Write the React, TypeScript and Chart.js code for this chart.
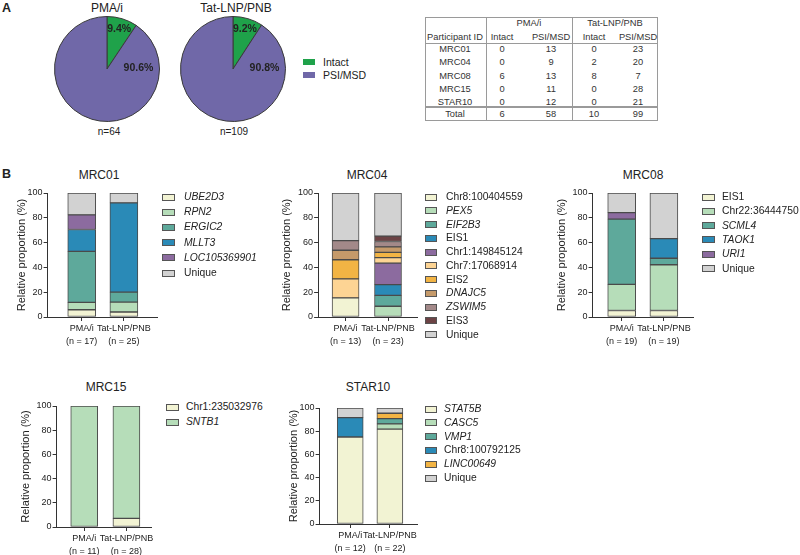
import React, { useEffect, useRef } from 'react';
import { Chart, registerables } from 'chart.js';

Chart.register(...registerables);

const FONT = "'Liberation Sans', Arial, Helvetica, sans-serif";
Chart.defaults.font.family = FONT;

// ---------- Panel A: pies ----------
const pieTitles = ['PMA/i', 'Tat-LNP/PNB'];
const pieCategories = ['Intact', 'PSI/MSD'];
const piePMAi = [6, 58];
const pieTatLNP = [10, 99];

// ---------- Panel A: table ----------
const tableParticipants = ['MRC01', 'MRC04', 'MRC08', 'MRC15', 'STAR10'];
const tablePMAiIntact = [0, 0, 6, 0, 0];
const tablePMAiPSI = [13, 9, 13, 11, 12];
const tableTatIntact = [0, 2, 8, 0, 0];
const tableTatPSI = [23, 20, 7, 28, 21];

// ---------- Panel B: stacked bars (clone counts) ----------
const groupLabels = ['PMA/i', 'Tat-LNP/PNB'];

const mrc01Sites = ['UBE2D3', 'RPN2', 'ERGIC2', 'MLLT3', 'LOC105369901', 'Unique'];
const mrc01PMAi = [1, 1, 7, 3, 2, 3];
const mrc01Tat = [1, 2, 2, 18, 0, 2];

const mrc04Sites = ['Chr8:100404559', 'PEX5', 'EIF2B3', 'EIS1', 'Chr1:149845124', 'Chr7:17068914', 'EIS2', 'DNAJC5', 'ZSWIM5', 'EIS3', 'Unique'];
const mrc04PMAi = [2, 0, 0, 0, 0, 2, 2, 1, 1, 0, 5];
const mrc04Tat = [0, 2, 2, 2, 4, 1, 1, 1, 1, 1, 8];

const mrc08Sites = ['EIS1', 'Chr22:36444750', 'SCML4', 'TAOK1', 'URI1', 'Unique'];
const mrc08PMAi = [1, 4, 10, 0, 1, 3];
const mrc08Tat = [1, 7, 1, 3, 0, 7];

const mrc15Sites = ['Chr1:235032976', 'SNTB1'];
const mrc15PMAi = [0, 11];
const mrc15Tat = [2, 26];

const star10Sites = ['STAT5B', 'CASC5', 'VMP1', 'Chr8:100792125', 'LINC00649', 'Unique'];
const star10PMAi = [9, 0, 0, 2, 0, 1];
const star10Tat = [18, 1, 1, 0, 1, 1];

const italicNames = new Set(['UBE2D3', 'RPN2', 'ERGIC2', 'MLLT3', 'LOC105369901', 'PEX5', 'EIF2B3', 'DNAJC5', 'ZSWIM5', 'SCML4', 'TAOK1', 'URI1', 'SNTB1', 'STAT5B', 'CASC5', 'VMP1', 'LINC00649']);

// ---------- styles ----------
const PIE_COLORS = ['#1FA24A', '#7068A8'];
const C = {
  cream: '#F2F3D3',
  ltgreen: '#B6DDB9',
  teal: '#5EA99B',
  blue: '#2A8AB7',
  purple: '#8C6B9F',
  peach: '#FDD494',
  orange: '#F2B444',
  tan: '#C59A6A',
  mauve: '#A38989',
  brown: '#6C4345',
  grey: '#D2D2D2',
};
const mrc01Colors = [C.cream, C.ltgreen, C.teal, C.blue, C.purple, C.grey];
const mrc04Colors = [C.cream, C.ltgreen, C.teal, C.blue, C.purple, C.peach, C.orange, C.tan, C.mauve, C.brown, C.grey];
const mrc08Colors = [C.cream, C.ltgreen, C.teal, C.blue, C.purple, C.grey];
const mrc15Colors = [C.cream, C.ltgreen];
const star10Colors = [C.cream, C.ltgreen, C.teal, C.blue, C.orange, C.grey];

const TEXT = '#222';
const AXIS = '#333';

type TxtProps = { x: number; y: number; size: number; bold?: boolean; italic?: boolean; anchor?: 'start' | 'middle' | 'end'; children: React.ReactNode; color?: string };
function Txt({ x, y, size, bold, italic, anchor = 'middle', children, color = TEXT }: TxtProps) {
  const tx = anchor === 'middle' ? '-50%' : anchor === 'end' ? '-100%' : '0';
  return (
    <div style={{ position: 'absolute', left: x, top: y, transform: `translate(${tx},-50%)`, fontSize: size, fontWeight: bold ? 'bold' : 'normal', fontStyle: italic ? 'italic' : 'normal', whiteSpace: 'nowrap', lineHeight: 1, color, fontFamily: FONT }}>
      {children}
    </div>
  );
}

function ChartCanvas({ left, top, width, height, makeConfig }: { left: number; top: number; width: number; height: number; makeConfig: () => any }) {
  const ref = useRef<HTMLCanvasElement>(null);
  useEffect(() => {
    const chart = new Chart(ref.current as HTMLCanvasElement, makeConfig());
    return () => chart.destroy();
  }, []);
  return (
    <div style={{ position: 'absolute', left, top, width, height }}>
      <canvas ref={ref} width={width} height={height} style={{ width, height, display: 'block' }} />
    </div>
  );
}

// ---------- pies ----------
const pieLabelFrac = [0.5, 0.17];
const pieLabelRadius = [0.8, 0.6];
const pieLabelPlugin = {
  id: 'pieLabels',
  afterDatasetsDraw(chart: any) {
    const meta = chart.getDatasetMeta(0);
    const data: number[] = chart.data.datasets[0].data;
    const total = data.reduce((a, b) => a + b, 0);
    const ctx = chart.ctx;
    ctx.save();
    ctx.font = `bold 10.5px ${FONT}`;
    ctx.fillStyle = TEXT;
    ctx.textAlign = 'center';
    ctx.textBaseline = 'middle';
    meta.data.forEach((arc: any, i: number) => {
      const { x, y, startAngle, endAngle, outerRadius } = arc.getProps(['x', 'y', 'startAngle', 'endAngle', 'outerRadius'], true);
      const a = startAngle + (endAngle - startAngle) * pieLabelFrac[i];
      const r = outerRadius * pieLabelRadius[i];
      ctx.fillText(`${((data[i] / total) * 100).toFixed(1)}%`, x + Math.cos(a) * r, y + Math.sin(a) * r);
    });
    ctx.restore();
  },
};

function pieConfig(values: number[]) {
  return () => ({
    type: 'pie',
    data: {
      labels: pieCategories,
      datasets: [{ data: values, backgroundColor: PIE_COLORS, borderColor: '#3a3a3a', borderWidth: 1 }],
    },
    options: {
      animation: false,
      responsive: false,
      layout: { padding: 2 },
      plugins: { legend: { display: false }, tooltip: { enabled: false }, title: { display: false } },
    },
    plugins: [pieLabelPlugin],
  });
}

// ---------- table ----------
function DataTable() {
  const L = 425, R = 658, T = 17, B = 121;
  const colX = [455, 502, 551, 594, 638];
  const rowY = [50, 63.3, 76.7, 90, 102.7];
  const lineC = '#9a9a9a';
  const sum = (a: number[]) => a.reduce((s, v) => s + v, 0);
  const hl = (y: number, h = 1) => <div style={{ position: 'absolute', left: L, top: y, width: R - L, height: h, background: lineC }} />;
  const vl = (x: number) => <div style={{ position: 'absolute', left: x, top: T, width: 1, height: B - T, background: lineC }} />;
  const fs = 9.3;
  const tc = '#333';
  return (
    <>
      <div style={{ position: 'absolute', left: L, top: T, width: R - L - 2, height: B - T - 2, border: `1px solid ${lineC}` }} />
      {vl(486)}
      {vl(572)}
      {hl(43)}
      {hl(106, 2)}
      <Txt x={529} y={24} size={fs} color={tc}>{pieTitles[0]}</Txt>
      <Txt x={615} y={24} size={fs} color={tc}>{pieTitles[1]}</Txt>
      <Txt x={455} y={37.5} size={fs} color={tc}>Participant ID</Txt>
      <Txt x={colX[1]} y={37.5} size={fs} color={tc}>{pieCategories[0]}</Txt>
      <Txt x={colX[2]} y={37.5} size={fs} color={tc}>{pieCategories[1]}</Txt>
      <Txt x={colX[3]} y={37.5} size={fs} color={tc}>{pieCategories[0]}</Txt>
      <Txt x={colX[4]} y={37.5} size={fs} color={tc}>{pieCategories[1]}</Txt>
      {tableParticipants.map((p, i) => (
        <React.Fragment key={p}>
          <Txt x={colX[0]} y={rowY[i]} size={fs} color={tc}>{p}</Txt>
          <Txt x={colX[1]} y={rowY[i]} size={fs} color={tc}>{tablePMAiIntact[i]}</Txt>
          <Txt x={colX[2]} y={rowY[i]} size={fs} color={tc}>{tablePMAiPSI[i]}</Txt>
          <Txt x={colX[3]} y={rowY[i]} size={fs} color={tc}>{tableTatIntact[i]}</Txt>
          <Txt x={colX[4]} y={rowY[i]} size={fs} color={tc}>{tableTatPSI[i]}</Txt>
        </React.Fragment>
      ))}
      <Txt x={colX[0]} y={115} size={fs} color={tc}>Total</Txt>
      <Txt x={colX[1]} y={115} size={fs} color={tc}>{sum(tablePMAiIntact)}</Txt>
      <Txt x={colX[2]} y={115} size={fs} color={tc}>{sum(tablePMAiPSI)}</Txt>
      <Txt x={colX[3]} y={115} size={fs} color={tc}>{sum(tableTatIntact)}</Txt>
      <Txt x={colX[4]} y={115} size={fs} color={tc}>{sum(tableTatPSI)}</Txt>
    </>
  );
}

// ---------- stacked bars ----------
type BarPanelSpec = {
  title: string;
  sites: string[];
  pmai: number[];
  tat: number[];
  colors: string[];
  area: { l: number; t: number; r: number; b: number };
  yGap: number;
  barW: number;
  xMin: number;
  xMax: number;
  titleX: number;
  titleY: number;
  legend: { boxX: number; textX: number; y0: number; dy: number; boxW: number };
};

const PAD_TOP = 7;
const PAD_RIGHT = 12;
const X_H = 36;

function yScaleWidth(p: BarPanelSpec) {
  return p.yGap + 6.6;
}

function barConfig(p: BarPanelSpec) {
  const total = (a: number[]) => a.reduce((s, v) => s + v, 0);
  const n = [total(p.pmai), total(p.tat)];
  const yW = yScaleWidth(p);
  return () => ({
    type: 'bar',
    data: {
      datasets: p.sites.map((site, i) => ({
        label: site,
        data: [p.pmai[i], p.tat[i]].map((c, j) => ({ x: j + 1, y: c > 0 ? (c / n[j]) * 100 : null })),
        backgroundColor: p.colors[i],
        borderColor: '#4a4a4a',
        borderWidth: 1,
        borderSkipped: false,
        barThickness: p.barW,
      })),
    },
    options: {
      animation: false,
      responsive: false,
      layout: { padding: { top: PAD_TOP, right: PAD_RIGHT, left: 0, bottom: 0 } },
      plugins: { legend: { display: false }, tooltip: { enabled: false }, title: { display: false } },
      scales: {
        x: {
          type: 'linear',
          offset: false,
          stacked: true,
          bounds: 'data',
          min: p.xMin,
          max: p.xMax,
          afterBuildTicks: (s: any) => {
            s.ticks = [{ value: 1 }, { value: 2 }];
          },
          afterFit: (s: any) => {
            s.height = X_H;
            s.paddingLeft = 0;
            s.paddingRight = 0;
          },
          ticks: {
            autoSkip: false,
            maxRotation: 0,
            minRotation: 0,
            padding: 1,
            color: TEXT,
            font: { size: 9, family: FONT, lineHeight: 1.45 },
            callback: (v: number) => [groupLabels[v - 1], `(n = ${n[v - 1]})`],
          },
          grid: { offset: false, drawOnChartArea: false, drawTicks: true, tickLength: 4, color: AXIS, lineWidth: 1 },
          border: { color: AXIS, width: 1 },
        },
        y: {
          stacked: true,
          min: 0,
          max: 100,
          afterFit: (s: any) => {
            s.width = yW;
            s.paddingTop = 0;
            s.paddingBottom = 0;
          },
          ticks: { stepSize: 20, padding: 1, color: TEXT, font: { size: 9, family: FONT } },
          grid: { drawOnChartArea: false, drawTicks: true, tickLength: 4, color: AXIS, lineWidth: 1 },
          border: { color: AXIS, width: 1 },
          title: { display: true, text: 'Relative proportion (%)', color: TEXT, font: { size: 11, family: FONT }, padding: 0 },
        },
      },
    },
  });
}

function BarPanel({ p }: { p: BarPanelSpec }) {
  const yW = yScaleWidth(p);
  const left = Math.round(p.area.l - yW);
  const top = p.area.t - PAD_TOP;
  const width = Math.round(p.area.r - left + PAD_RIGHT);
  const height = p.area.b - p.area.t + PAD_TOP + X_H;
  const lg = p.legend;
  return (
    <>
      <Txt x={p.titleX} y={p.titleY} size={12}>{p.title}</Txt>
      <ChartCanvas left={left} top={top} width={width} height={height} makeConfig={barConfig(p)} />
      {p.sites.map((s, i) => (
        <React.Fragment key={s}>
          <div style={{ position: 'absolute', left: lg.boxX, top: lg.y0 + i * lg.dy - 3.5, width: lg.boxW - 2, height: 5, border: '1px solid #555', background: p.colors[i] }} />
          <Txt x={lg.textX} y={lg.y0 + i * lg.dy} size={10.3} italic={italicNames.has(s)} anchor="start">{s}</Txt>
        </React.Fragment>
      ))}
    </>
  );
}

const panels: BarPanelSpec[] = [
  {
    title: 'MRC01', sites: mrc01Sites, pmai: mrc01PMAi, tat: mrc01Tat, colors: mrc01Colors,
    area: { l: 48, t: 193, r: 157, b: 317 }, yGap: 26, barW: 28, xMin: 0.19, xMax: 2.786,
    titleX: 99, titleY: 175, legend: { boxX: 162, textX: 184, y0: 197, dy: 15.2, boxW: 13 },
  },
  {
    title: 'MRC04', sites: mrc04Sites, pmai: mrc04PMAi, tat: mrc04Tat, colors: mrc04Colors,
    area: { l: 318, t: 193, r: 417, b: 317 }, yGap: 31.5, barW: 27, xMin: 0.353, xMax: 2.683,
    titleX: 367, titleY: 175, legend: { boxX: 425, textX: 446, y0: 197, dy: 13.77, boxW: 12 },
  },
  {
    title: 'MRC08', sites: mrc08Sites, pmai: mrc08PMAi, tat: mrc08Tat, colors: mrc08Colors,
    area: { l: 593, t: 193, r: 693, b: 317 }, yGap: 31, barW: 28, xMin: 0.31, xMax: 2.69,
    titleX: 643, titleY: 175, legend: { boxX: 702, textX: 722, y0: 197, dy: 14.3, boxW: 13 },
  },
  {
    title: 'MRC15', sites: mrc15Sites, pmai: mrc15PMAi, tat: mrc15Tat, colors: mrc15Colors,
    area: { l: 57, t: 406, r: 151, b: 527 }, yGap: 31, barW: 27, xMin: 0.345, xMax: 2.583,
    titleX: 106, titleY: 387, legend: { boxX: 166, textX: 186, y0: 407, dy: 15, boxW: 13 },
  },
  {
    title: 'STAR10', sites: star10Sites, pmai: star10PMAi, tat: star10Tat, colors: star10Colors,
    area: { l: 320, t: 408, r: 417, b: 524 }, yGap: 26, barW: 26, xMin: 0.228, xMax: 2.684,
    titleX: 368, titleY: 387, legend: { boxX: 425, textX: 444, y0: 409, dy: 13.8, boxW: 12 },
  },
];

export default function App() {
  const pieTotals = [piePMAi, pieTatLNP].map((v) => v.reduce((a, b) => a + b, 0));
  return (
    <div style={{ position: 'absolute', left: 0, top: 0, width: 800, height: 555, background: '#fff', overflow: 'hidden', fontFamily: FONT }}>
      <Txt x={2} y={8} size={12.5} bold anchor="start">A</Txt>
      <Txt x={2} y={174} size={12.5} bold anchor="start">B</Txt>

      <Txt x={107} y={8} size={12}>{pieTitles[0]}</Txt>
      <Txt x={236} y={8} size={12}>{pieTitles[1]}</Txt>
      <ChartCanvas left={52} top={14} width={110} height={110} makeConfig={pieConfig(piePMAi)} />
      <ChartCanvas left={178} top={14} width={110} height={110} makeConfig={pieConfig(pieTatLNP)} />
      <Txt x={109} y={132} size={10}>{`n=${pieTotals[0]}`}</Txt>
      <Txt x={234} y={132} size={10}>{`n=${pieTotals[1]}`}</Txt>
      {pieCategories.map((c, i) => (
        <React.Fragment key={c}>
          <div style={{ position: 'absolute', left: 303, top: 62 + i * 13 - 3, width: 12, height: 6, background: PIE_COLORS[i] }} />
          <Txt x={323} y={62 + i * 13} size={10.5} anchor="start">{c}</Txt>
        </React.Fragment>
      ))}

      <DataTable />

      {panels.map((p) => (
        <BarPanel key={p.title} p={p} />
      ))}
    </div>
  );
}
